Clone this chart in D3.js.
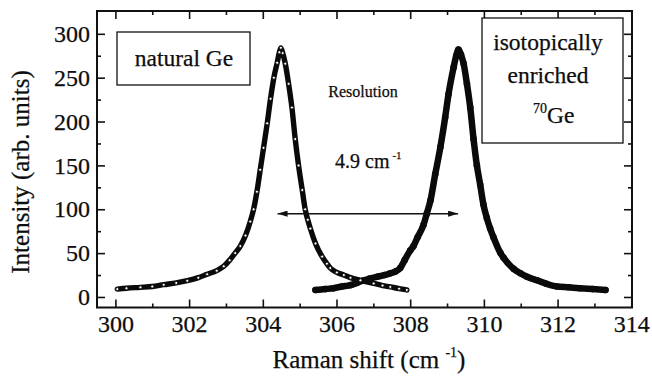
<!DOCTYPE html>
<html>
<head>
<meta charset="utf-8">
<script src="https://cdn.jsdelivr.net/npm/d3@7/dist/d3.min.js"></script>
<style>
  html, body { margin: 0; padding: 0; background: #fff; }
  svg { display: block; }
  text { font-family: "Liberation Serif", "Times New Roman", serif; fill: #0d0d0d; stroke: #0d0d0d; stroke-width: 0.25px; }
</style>
</head>
<body>
<svg id="chart" width="652" height="376"></svg>
<script>
// Raman spectra of natural Ge and isotopically enriched 70Ge
const naturalShift = [300.05, 300.3, 300.68, 301.0, 301.31, 301.65, 301.95, 302.25, 302.49, 302.75,
  302.94, 303.1, 303.25, 303.39, 303.53, 303.66, 303.75, 303.84, 303.93, 304.02,
  304.12, 304.21, 304.3, 304.39, 304.45, 304.49, 304.54, 304.61, 304.7, 304.79,
  304.88, 304.97, 305.07, 305.15, 305.22, 305.29, 305.43, 305.61, 305.74, 305.83,
  306.01, 306.2, 306.38, 306.65, 307.01, 307.25, 307.46, 307.7, 307.91];
const naturalIntensity = [9, 10, 11, 12, 14, 16, 18.5, 22, 26, 30,
  35, 42, 50, 58, 70, 86, 100, 120, 145, 170,
  198, 226, 250, 267, 279, 284, 278, 266, 243, 216,
  180, 150, 122, 100, 88, 78, 61, 46, 38, 33,
  28, 25, 22, 19, 15.5, 13, 11.5, 9.5, 8];

const enrichedShift = [305.43, 305.7, 305.92, 306.15, 306.38, 306.55, 306.74, 306.9, 307.1, 307.3,
  307.46, 307.6, 307.73, 307.85, 308.0, 308.09, 308.2, 308.36, 308.45, 308.55,
  308.68, 308.82, 308.95, 309.04, 309.18, 309.25, 309.31, 309.38, 309.45, 309.54,
  309.63, 309.72, 309.81, 309.9, 309.99, 310.08, 310.17, 310.26, 310.45, 310.53,
  310.81, 310.99, 311.17, 311.44, 311.7, 311.98, 312.3, 312.6, 312.95, 313.3];
const enrichedIntensity = [8, 9, 10, 12, 13.5, 16, 19, 21, 23, 25,
  27, 29, 33, 42, 53, 58, 68, 82, 95, 110,
  140, 171, 205, 231, 262, 275, 282, 276, 266, 243,
  216, 180, 150, 128, 105, 90, 78, 68, 50, 45,
  32, 27, 23, 19, 15, 12, 11, 10, 9, 8];

const xMajorTicks = [300, 302, 304, 306, 308, 310, 312, 314];
const xMinorTicks = [301, 303, 305, 307, 309, 311, 313];
const yMajorTicks = [0, 50, 100, 150, 200, 250, 300];
const yMinorTicks = [25, 75, 125, 175, 225, 275];

// resolution marker: arrow spanning 4.9 cm^-1
const resolutionStart = 304.4;
const resolutionWidth = 4.9;
const resolutionLevel = 95;

const svg = d3.select("#chart");
const plotLeft = 97, plotRight = 632, plotTop = 11, plotBottom = 307.5;

const x = d3.scaleLinear().domain([299.5, 314.02]).range([plotLeft, plotRight]);
const y = d3.scaleLinear().domain([-12, 326]).range([plotBottom, plotTop]);

const g = svg.append("g");

// axes with inward ticks on all four sides
function styleAxis(sel) {
  sel.attr("font-family", null);
  sel.select(".domain").remove();
  sel.selectAll(".tick line").attr("stroke", "#111").attr("stroke-width", 1.6);
  sel.selectAll("text").style("font-size", "24px");
}

g.append("g").attr("transform", `translate(0,${plotBottom})`)
  .call(d3.axisBottom(x).tickValues(xMajorTicks).tickSize(-8).tickPadding(7.5).tickFormat(d3.format("d")))
  .call(styleAxis);
g.append("g").attr("transform", `translate(0,${plotBottom})`)
  .call(d3.axisBottom(x).tickValues(xMinorTicks).tickSize(-4).tickFormat(""))
  .call(styleAxis);
g.append("g").attr("transform", `translate(0,${plotTop})`)
  .call(d3.axisTop(x).tickValues(xMajorTicks).tickSize(-8).tickFormat(""))
  .call(styleAxis);
g.append("g").attr("transform", `translate(0,${plotTop})`)
  .call(d3.axisTop(x).tickValues(xMinorTicks).tickSize(-4).tickFormat(""))
  .call(styleAxis);

g.append("g").attr("transform", `translate(${plotLeft},0)`)
  .call(d3.axisLeft(y).tickValues(yMajorTicks).tickSize(-8).tickPadding(7).tickFormat(d3.format("d")))
  .call(styleAxis);
g.append("g").attr("transform", `translate(${plotLeft},0)`)
  .call(d3.axisLeft(y).tickValues(yMinorTicks).tickSize(-4).tickFormat(""))
  .call(styleAxis);
g.append("g").attr("transform", `translate(${plotRight},0)`)
  .call(d3.axisRight(y).tickValues(yMajorTicks).tickSize(-8).tickFormat(""))
  .call(styleAxis);
g.append("g").attr("transform", `translate(${plotRight},0)`)
  .call(d3.axisRight(y).tickValues(yMinorTicks).tickSize(-4).tickFormat(""))
  .call(styleAxis);

// frame
g.append("rect")
  .attr("x", plotLeft).attr("y", plotTop)
  .attr("width", plotRight - plotLeft).attr("height", plotBottom - plotTop)
  .attr("fill", "none").attr("stroke", "#111").attr("stroke-width", 2);

// spectra
const natural = naturalShift.map((s, i) => [s, naturalIntensity[i]]);
const enriched = enrichedShift.map((s, i) => [s, enrichedIntensity[i]]);
const line = d3.line().x(d => x(d[0])).y(d => y(d[1])).curve(d3.curveMonotoneX);

g.append("path").datum(enriched)
  .attr("d", line).attr("fill", "none")
  .attr("stroke", "#0a0a0a").attr("stroke-width", 6.5)
  .attr("stroke-linejoin", "round").attr("stroke-linecap", "round");
g.append("g").selectAll("circle").data(enriched).join("circle")
  .attr("cx", d => x(d[0])).attr("cy", d => y(d[1])).attr("r", 3.3)
  .attr("fill", "#0a0a0a");

g.append("path").datum(natural)
  .attr("d", line).attr("fill", "none")
  .attr("stroke", "#0a0a0a").attr("stroke-width", 5.4)
  .attr("stroke-linejoin", "round").attr("stroke-linecap", "round");
g.append("g").selectAll("circle").data(natural).join("circle")
  .attr("cx", d => x(d[0])).attr("cy", d => y(d[1])).attr("r", 1.5)
  .attr("fill", "#fff").attr("stroke", "#0a0a0a").attr("stroke-width", 0.8);

// resolution arrow
const defs = svg.append("defs");
defs.append("marker").attr("id", "head")
  .attr("viewBox", "0 0 10 6").attr("refX", 10).attr("refY", 3)
  .attr("markerWidth", 10).attr("markerHeight", 6)
  .attr("markerUnits", "userSpaceOnUse").attr("orient", "auto-start-reverse")
  .append("path").attr("d", "M0,0 L10,3 L0,6 Z").attr("fill", "#111");

g.append("line")
  .attr("x1", x(resolutionStart)).attr("x2", x(resolutionStart + resolutionWidth))
  .attr("y1", y(resolutionLevel)).attr("y2", y(resolutionLevel))
  .attr("stroke", "#111").attr("stroke-width", 1.5)
  .attr("marker-start", "url(#head)").attr("marker-end", "url(#head)");

g.append("text").attr("x", 363).attr("y", 97)
  .attr("text-anchor", "middle").style("font-size", "16px").text("Resolution");

const res = g.append("text").attr("x", 335).attr("y", 168).style("font-size", "20px");
res.append("tspan").text(`${resolutionWidth} cm`);
res.append("tspan").attr("dx", 3).attr("dy", -9).style("font-size", "11px").text("-1");

// sample labels
g.append("rect").attr("x", 117).attr("y", 32).attr("width", 133).attr("height", 53)
  .attr("fill", "#fff").attr("stroke", "#111").attr("stroke-width", 1.3);
g.append("text").attr("x", 184).attr("y", 66).attr("text-anchor", "middle")
  .style("font-size", "23.5px").text("natural Ge");

g.append("rect").attr("x", 482).attr("y", 18).attr("width", 141).attr("height", 125)
  .attr("fill", "#fff").attr("stroke", "#111").attr("stroke-width", 1.3);
g.append("text").attr("x", 548).attr("y", 50).attr("text-anchor", "middle")
  .style("font-size", "23.5px").text("isotopically");
g.append("text").attr("x", 548).attr("y", 83).attr("text-anchor", "middle")
  .style("font-size", "23.5px").text("enriched");
const ge = g.append("text").attr("x", 533).attr("y", 123).style("font-size", "23.5px");
ge.append("tspan").attr("dy", -10).style("font-size", "14px").text("70");
ge.append("tspan").attr("dy", 10).text("Ge");

// axis titles
const xt = svg.append("text").attr("x", 369).attr("y", 368)
  .attr("text-anchor", "middle").style("font-size", "25px");
xt.append("tspan").text("Raman shift (cm ");
xt.append("tspan").attr("dy", -11).style("font-size", "14px").text("-1");
xt.append("tspan").attr("dy", 11).text(")");

svg.append("text")
  .attr("transform", "translate(29,172) rotate(-90)")
  .attr("text-anchor", "middle").style("font-size", "25px")
  .text("Intensity (arb. units)");
</script>
</body>
</html>
